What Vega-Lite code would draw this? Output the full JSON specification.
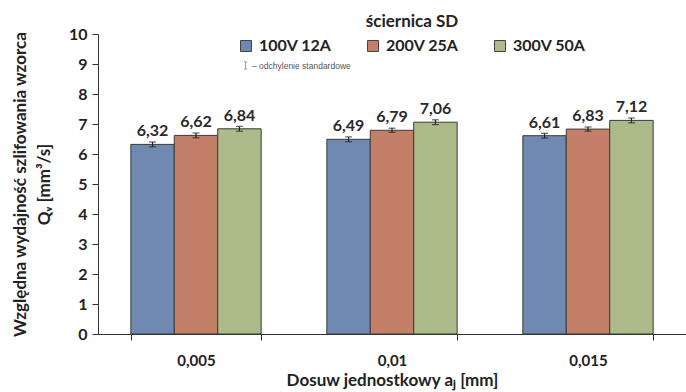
{
  "$schema": "https://vega.github.io/schema/vega-lite/v6.json",
  "width": 588,
  "height": 300,
  "autosize": "none",
  "padding": {"left": 98, "top": 34, "right": 0, "bottom": 58},
  "background": "white",
  "config": {
    "view": {"stroke": null},
    "font": "Lato",
    "axis": {"domainColor": "#333", "tickColor": "#333", "labelColor": "#222", "titleColor": "#222", "grid": false}
  },
  "data": {
    "values": [
      {"d": "0,005", "s": "100V 12A", "v": 6.32, "lo": 6.24, "hi": 6.40, "t": "6,32"},
      {"d": "0,005", "s": "200V 25A", "v": 6.62, "lo": 6.54, "hi": 6.70, "t": "6,62"},
      {"d": "0,005", "s": "300V 50A", "v": 6.84, "lo": 6.76, "hi": 6.92, "t": "6,84"},
      {"d": "0,01", "s": "100V 12A", "v": 6.49, "lo": 6.41, "hi": 6.57, "t": "6,49"},
      {"d": "0,01", "s": "200V 25A", "v": 6.79, "lo": 6.72, "hi": 6.86, "t": "6,79"},
      {"d": "0,01", "s": "300V 50A", "v": 7.06, "lo": 6.98, "hi": 7.14, "t": "7,06"},
      {"d": "0,015", "s": "100V 12A", "v": 6.61, "lo": 6.53, "hi": 6.69, "t": "6,61"},
      {"d": "0,015", "s": "200V 25A", "v": 6.83, "lo": 6.76, "hi": 6.90, "t": "6,83"},
      {"d": "0,015", "s": "300V 50A", "v": 7.12, "lo": 7.04, "hi": 7.20, "t": "7,12"}
    ]
  },
  "encoding": {
    "x": {
      "field": "d", "type": "nominal", "sort": ["0,005", "0,01", "0,015"],
      "scale": {"paddingInner": 0.335, "paddingOuter": 0.1675},
      "axis": {
        "title": "Dosuw jednostkowy aⱼ [mm]", "titleFontSize": 17, "titleFontWeight": "bold", "titlePadding": 4,
        "labelAngle": 0, "labelFontSize": 15, "labelFontWeight": "bold", "labelPadding": 13,
        "tickBand": "extent", "tickSize": 6
      }
    },
    "xOffset": {"field": "s", "type": "nominal", "scale": {"paddingInner": 0, "paddingOuter": 0}}
  },
  "layer": [
    {
      "mark": {"type": "bar", "stroke": "#3a3a3a", "strokeWidth": 1},
      "encoding": {
        "y": {
          "field": "v", "type": "quantitative",
          "scale": {"domain": [0, 10]},
          "axis": {
            "title": ["Względna wydajność szlifowania wzorca", "Qᵥ [mm³/s]"],
            "titleFontSize": 17, "titleFontWeight": "bold", "titleLineHeight": 24, "titlePadding": 15,
            "tickCount": 10, "labelFontSize": 16, "labelFontWeight": "bold", "tickSize": 6, "labelPadding": 5
          }
        },
        "color": {
          "field": "s", "type": "nominal",
          "scale": {"range": ["#6F89B0", "#C47F68", "#ADBA8A"]},
          "legend": {
            "title": "ściernica SD", "orient": "none", "legendX": 140, "legendY": -20,
            "direction": "horizontal", "titleOrient": "top", "titleAnchor": "middle",
            "titleFontSize": 17, "titleFontWeight": "bold", "titleColor": "#222", "titlePadding": 7,
            "labelFontSize": 16, "labelFontWeight": "bold", "labelColor": "#222", "labelOffset": 5,
            "symbolType": "square", "symbolSize": 121, "symbolStrokeColor": "#444", "symbolStrokeWidth": 1,
            "columnPadding": 33, "padding": 0
          }
        }
      }
    },
    {
      "mark": {"type": "rule", "color": "#222", "strokeWidth": 1.2},
      "encoding": {
        "y": {"field": "lo", "type": "quantitative"},
        "y2": {"field": "hi"}
      }
    },
    {
      "mark": {"type": "tick", "orient": "horizontal", "size": 7, "thickness": 1.2, "color": "#222"},
      "encoding": {"y": {"field": "lo", "type": "quantitative"}}
    },
    {
      "mark": {"type": "tick", "orient": "horizontal", "size": 7, "thickness": 1.2, "color": "#222"},
      "encoding": {"y": {"field": "hi", "type": "quantitative"}}
    },
    {
      "mark": {"type": "text", "baseline": "bottom", "dy": -5, "fontSize": 16, "fontWeight": "bold", "color": "#2a2a2a", "font": "Lato"},
      "encoding": {
        "y": {"field": "v", "type": "quantitative"},
        "text": {"field": "t"}
      }
    },
    {
      "data": {"values": []},
      "mark": {"type": "point", "filled": false},
      "encoding": {
        "shape": {
          "datum": "– odchylenie standardowe",
          "scale": {"range": ["M-0.45,-1H0.45M0,-1V1M-0.45,1H0.45"]},
          "legend": {
            "title": null, "orient": "none", "legendX": 143, "legendY": 27, "padding": 0,
            "labelFontSize": 8.5, "labelColor": "#555", "labelOffset": 2, "labelFont": "Liberation Sans",
            "symbolSize": 50, "symbolStrokeColor": "#777", "symbolStrokeWidth": 1, "symbolFillColor": "transparent"
          }
        }
      }
    }
  ]
}
